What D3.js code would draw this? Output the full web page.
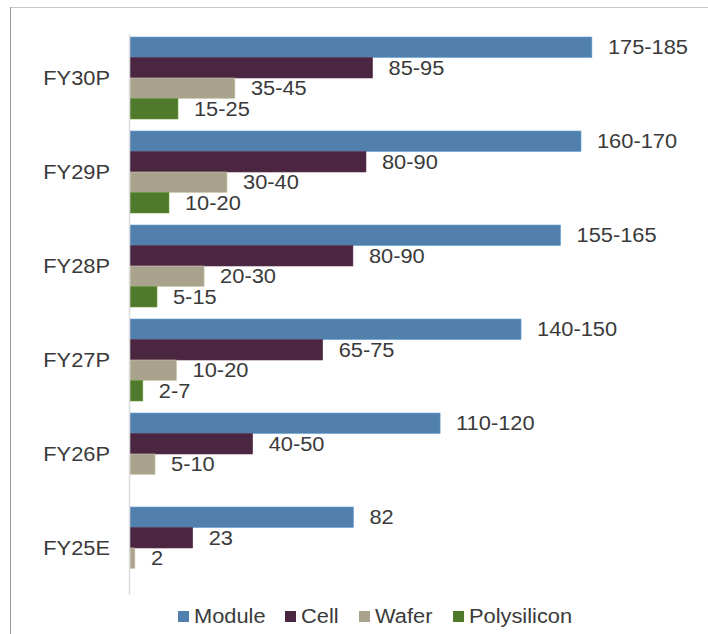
<!DOCTYPE html>
<html>
<head>
<meta charset="utf-8">
<script src="https://cdn.jsdelivr.net/npm/d3@7"></script>
<style>
  html, body { margin: 0; padding: 0; background: #fff; }
  svg { display: block; font-family: "Liberation Sans", Arial, sans-serif; }
</style>
</head>
<body>
<svg id="chart" width="708" height="634"></svg>
<script>
// categories, top to bottom
const categories = ["FY30P", "FY29P", "FY28P", "FY27P", "FY26P", "FY25E"];
const seriesNames = ["Module", "Cell", "Wafer", "Polysilicon"];
const seriesColors = ["#5080ab", "#4a2640", "#a9a38d", "#4f7a2b"];

// bar lengths
const moduleValues = [169.5, 165.5, 158, 143.5, 113.8, 82];
const cellValues = [89, 86.6, 81.8, 70.7, 45, 23];
const waferValues = [38.5, 35.6, 27.2, 17.1, 9.2, 1.8];
const polyValues = [17.6, 14.3, 9.9, 4.7, null, null];

// data labels printed next to the bars
const moduleLabels = ["175-185", "160-170", "155-165", "140-150", "110-120", "82"];
const cellLabels = ["85-95", "80-90", "80-90", "65-75", "40-50", "23"];
const waferLabels = ["35-45", "30-40", "20-30", "10-20", "5-10", "2"];
const polyLabels = ["15-25", "10-20", "5-15", "2-7", null, null];

const values = [moduleValues, cellValues, waferValues, polyValues];
const labels = [moduleLabels, cellLabels, waferLabels, polyLabels];

const svg = d3.select("#chart");
const textColor = "#3a3a3a";
const stretch = 1.12; // text in the picture is a bit wide

// frame
svg.append("line").attr("x1", 10.5).attr("x2", 708).attr("y1", 7.5).attr("y2", 7.5)
    .attr("stroke", "#c8c8c8").attr("stroke-width", 1);
svg.append("line").attr("x1", 10.5).attr("x2", 10.5).attr("y1", 7).attr("y2", 634)
    .attr("stroke", "#9a9a9a").attr("stroke-width", 1);

// scales
const x = d3.scaleLinear().domain([0, 200]).range([130, 675]);
const y = d3.scaleBand().domain(categories).range([31, 595]).paddingInner(0).paddingOuter(0);
const yInner = d3.scaleBand().domain(seriesNames).range([0, y.bandwidth()])
    .paddingInner(0).paddingOuter(0.293);

// rows of data
const rows = [];
categories.forEach((c, i) => {
    seriesNames.forEach((s, j) => {
        if (values[j][i] != null) {
            rows.push({ cat: c, series: s, color: seriesColors[j], value: values[j][i], label: labels[j][i] });
        }
    });
});

const g = svg.append("g");

g.selectAll("rect.bar")
    .data(rows)
    .join("rect")
    .attr("class", "bar")
    .attr("x", x(0))
    .attr("y", d => y(d.cat) + yInner(d.series))
    .attr("width", d => x(d.value) - x(0))
    .attr("height", yInner.bandwidth())
    .attr("fill", d => d.color)
    .attr("stroke", d => d3.color(d.color).brighter(0.6))
    .attr("stroke-width", 0.6);

g.selectAll("text.val")
    .data(rows)
    .join("text")
    .attr("class", "val")
    .attr("transform", d => `translate(${x(d.value) + 16},${y(d.cat) + yInner(d.series) + yInner.bandwidth() / 2}) scale(${stretch},1)`)
    .attr("dy", "0.36em")
    .attr("font-size", 19.5)
    .attr("fill", textColor)
    .text(d => d.label);

// vertical axis line
svg.append("line")
    .attr("x1", x(0) - 0.5).attr("x2", x(0) - 0.5)
    .attr("y1", y.range()[0] + 3).attr("y2", y.range()[1])
    .attr("stroke", "#dcdcdc").attr("stroke-width", 1.5);

// category labels
svg.selectAll("text.cat")
    .data(categories)
    .join("text")
    .attr("class", "cat")
    .attr("transform", d => `translate(110,${y(d) + y.bandwidth() / 2}) scale(${stretch},1)`)
    .attr("dy", "0.36em")
    .attr("text-anchor", "end")
    .attr("font-size", 19.5)
    .attr("fill", textColor)
    .text(d => d);

// legend
const legendX = [178, 285, 359, 453];
const legend = svg.selectAll("g.legend")
    .data(seriesNames)
    .join("g")
    .attr("class", "legend")
    .attr("transform", (d, i) => `translate(${legendX[i]},611)`);

legend.append("rect")
    .attr("width", 11).attr("height", 11)
    .attr("fill", (d, i) => seriesColors[i]);

legend.append("text")
    .attr("transform", `translate(16,12) scale(${stretch},1)`)
    .attr("font-size", 19.5)
    .attr("fill", textColor)
    .text(d => d);
</script>
</body>
</html>
